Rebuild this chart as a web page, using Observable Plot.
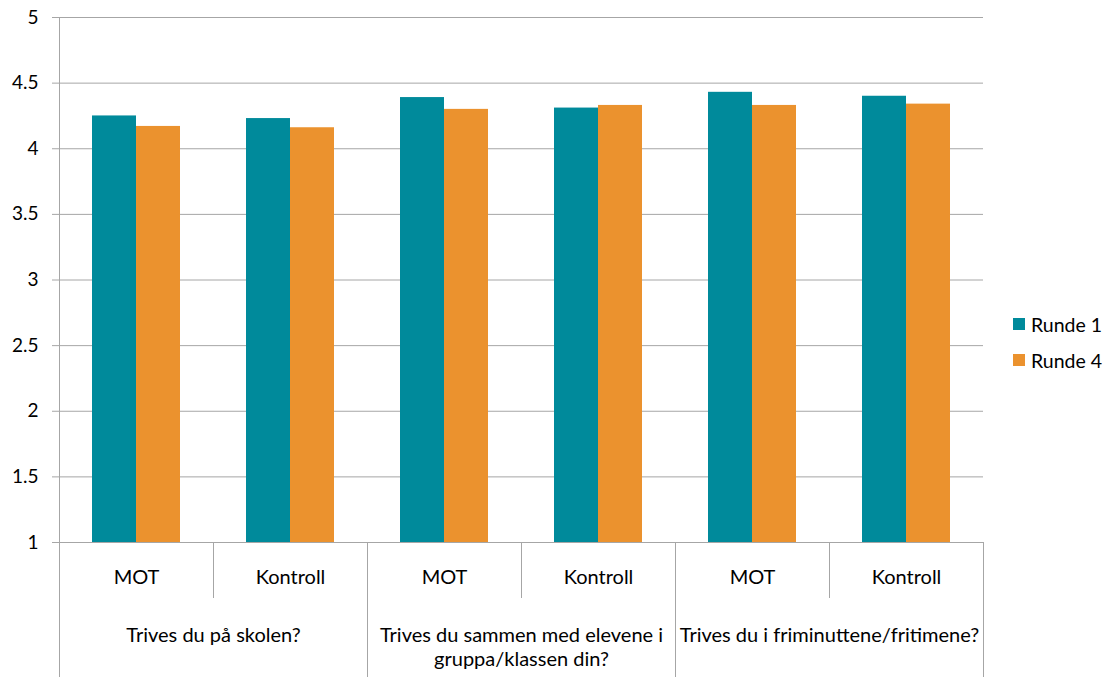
<!DOCTYPE html>
<html><head><meta charset="utf-8">
<script src="https://cdn.jsdelivr.net/npm/d3@7"></script>
<script src="https://cdn.jsdelivr.net/npm/@observablehq/plot@0.6"></script>
<style>
html,body{margin:0;padding:0;background:#fff;}
#wrap{position:relative;width:1107px;height:677px;font-family:Lato,sans-serif;}
#legend{position:absolute;left:1013px;top:306px;font-size:19.5px;color:#000;}
.item{display:flex;align-items:center;height:36px;white-space:nowrap;}
.sw{width:12px;height:12px;margin-right:6px;flex:none;}
</style></head><body><div id="wrap"><div id="legend"></div></div>
<script>
const questions = ["Trives du på skolen?", "Trives du sammen med elevene i gruppa/klassen din?", "Trives du i friminuttene/fritimene?"];
const groups = ["MOT", "Kontroll"];
const series = ["Runde 1", "Runde 4"];
const runde1 = [4.25, 4.23, 4.39, 4.31, 4.43, 4.40];
const runde4 = [4.17, 4.16, 4.30, 4.33, 4.33, 4.34];
const yTicks = [1, 1.5, 2, 2.5, 3, 3.5, 4, 4.5, 5];
const baseline = 1;
const colors = ["#008A9B", "#EB922E"];
const lineColor = "#A6A6A6";

const cells = [];
questions.forEach((q, qi) => groups.forEach((g, gi) => {
  cells.push({key: qi + "|" + gi, question: q, group: g, qi, gi, idx: qi * 2 + gi});
}));
const rows = [];
cells.forEach(c => {
  rows.push({key: c.key, series: series[0], value: runde1[c.idx]});
  rows.push({key: c.key, series: series[1], value: runde4[c.idx]});
});

const chart = Plot.plot({
  width: 1107, height: 677,
  marginTop: 17, marginBottom: 135, marginLeft: 57, marginRight: 122,
  style: {fontFamily: "Lato, sans-serif", fontSize: "19px", color: "#000", background: "#fff"},
  fx: {domain: cells.map(c => c.key), padding: 0, axis: null},
  x: {domain: series, paddingInner: 0, paddingOuter: 0.745, axis: null},
  y: {domain: [1, 5], axis: null},
  color: {domain: series, range: colors},
  marks: [
    Plot.gridY(yTicks, {stroke: lineColor, strokeOpacity: 1}),
    Plot.barY(rows, {fx: "key", x: "series", y1: baseline, y2: "value", fill: "series"}),
    Plot.axisY(yTicks, {tickFormat: d => String(d), tickSize: 7, tickPadding: 14, stroke: lineColor, strokeOpacity: 1, fontSize: 19, label: null}),
    Plot.text(cells, {fx: "key", text: "group", frameAnchor: "bottom", dy: 41, fontSize: 20}),
    Plot.text(cells.filter(c => c.gi === 0), {fx: "key", text: "question", frameAnchor: "bottom-right", textAnchor: "middle", lineAnchor: "top", lineWidth: 18, lineHeight: 1.22, dy: 82, fontSize: 20})
  ]
});

// separators of the category axis, placed with the chart's own scales
const fxS = chart.scale("fx"), yS = chart.scale("y");
const bw = fxS.bandwidth;
const y0 = yS.apply(baseline), yTop = yS.apply(5);
const H = 677;
const crisp = v => Math.round(v) + 0.5;
const g = d3.select(chart).append("g").attr("stroke", lineColor).attr("stroke-width", 1);
const seg = (x, ya, yb) => g.append("line").attr("x1", crisp(x)).attr("x2", crisp(x)).attr("y1", ya).attr("y2", yb);
cells.forEach(c => {
  const x = fxS.apply(c.key);
  if (c.gi === 0) seg(x, c.qi === 0 ? yTop : y0, H);
  else seg(x, y0, y0 + 56);
});
seg(fxS.apply(cells[cells.length - 1].key) + bw, y0, H);

document.getElementById("wrap").prepend(chart);
const legend = d3.select("#legend");
series.forEach((s, i) => {
  const it = legend.append("div").attr("class", "item");
  it.append("div").attr("class", "sw").style("background", colors[i]);
  it.append("span").text(s);
});
</script></body></html>
